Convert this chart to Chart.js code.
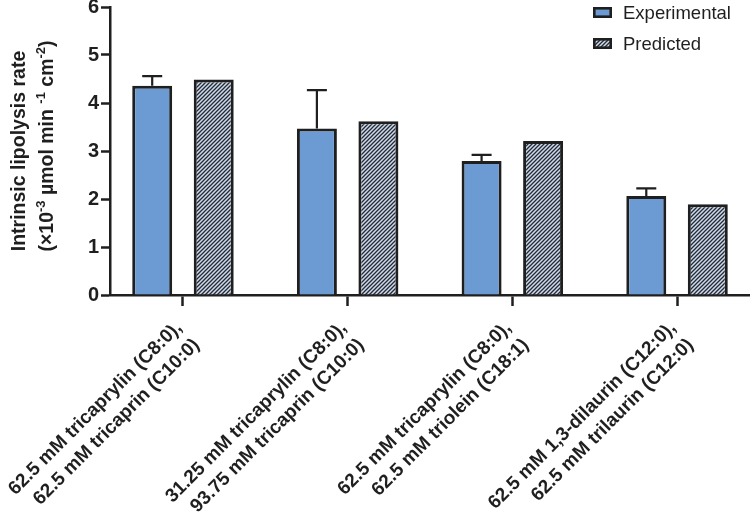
<!DOCTYPE html>
<html><head><meta charset="utf-8">
<script src="https://cdn.jsdelivr.net/npm/chart.js@4/dist/chart.umd.min.js"></script>
<style>html,body{margin:0;padding:0;background:#fff}canvas{display:block}</style>
</head><body>
<canvas id="c" width="750" height="514"></canvas>
<script>
const categories = [
  ["62.5 mM tricaprylin (C8:0),", "62.5 mM tricaprin (C10:0)"],
  ["31.25 mM tricaprylin (C8:0),", "93.75 mM tricaprin (C10:0)"],
  ["62.5 mM tricaprylin (C8:0),", "62.5 mM triolein (C18:1)"],
  ["62.5 mM 1,3-dilaurin (C12:0),", "62.5 mM trilaurin (C12:0)"]
];
const seriesNames = ["Experimental", "Predicted"];
const experimental = [4.36, 3.47, 2.79, 2.06];
const experimentalErr = [0.20, 0.80, 0.13, 0.16];
const predicted = [4.49, 3.62, 3.21, 1.89];
const yMin = 0, yMax = 6, yStep = 1;
const yTitleLines = [
  [{t: "Intrinsic lipolysis rate"}],
  [{t: "(\u00d710"}, {t: "-3", sup: true}, {t: " \u00b5mol min "}, {t: "-1", sup: true}, {t: " cm"}, {t: "-2", sup: true}, {t: ")"}]
];

const FONT = '"Liberation Sans", Arial, Helvetica, sans-serif';
const INK = '#1f1f1f';
const canvas = document.getElementById('c');
const ctx = canvas.getContext('2d');

function makeHatch() {
  const s = 4;
  const c = document.createElement('canvas');
  c.width = s; c.height = s;
  const g = c.getContext('2d');
  g.fillStyle = '#cddbec';
  g.fillRect(0, 0, s, s);
  g.strokeStyle = '#262b33';
  g.lineWidth = 1.3;
  g.beginPath();
  g.moveTo(0, s); g.lineTo(s, 0);
  g.moveTo(-1, 1); g.lineTo(1, -1);
  g.moveTo(s - 1, s + 1); g.lineTo(s + 1, s - 1);
  g.stroke();
  return ctx.createPattern(c, 'repeat');
}
const hatch = makeHatch();
const expColor = '#6b9bd2';

const errorBars = {
  id: 'errorBars',
  afterDatasetsDraw(chart) {
    const meta = chart.getDatasetMeta(0);
    const y = chart.scales.y;
    const c = chart.ctx;
    c.save();
    c.strokeStyle = INK;
    c.lineWidth = 2.2;
    meta.data.forEach((bar, i) => {
      const top = y.getPixelForValue(experimental[i] + experimentalErr[i]);
      c.beginPath();
      c.moveTo(bar.x, bar.y);
      c.lineTo(bar.x, top);
      c.moveTo(bar.x - 10, top);
      c.lineTo(bar.x + 10, top);
      c.stroke();
    });
    c.restore();
  }
};

const yTitle = {
  id: 'yTitle',
  afterDraw(chart) {
    const c = chart.ctx;
    const baselines = [25, 53];
    const centers = [151, 146];
    c.save();
    c.fillStyle = INK;
    c.textBaseline = 'alphabetic';
    c.textAlign = 'left';
    yTitleLines.forEach((segs, li) => {
      let total = 0;
      segs.forEach(s => { c.font = 'bold ' + (s.sup ? 13 : 19.5) + 'px ' + FONT; total += c.measureText(s.t).width; });
      c.save();
      c.translate(baselines[li], centers[li]);
      c.rotate(-Math.PI / 2);
      let x = -total / 2;
      segs.forEach(s => {
        c.font = 'bold ' + (s.sup ? 13 : 19.5) + 'px ' + FONT;
        c.fillText(s.t, x, s.sup ? -8 : 0);
        x += c.measureText(s.t).width;
      });
      c.restore();
    });
    c.restore();
  }
};

const legendBoxes = {
  id: 'legendBoxes',
  afterDraw(chart) {
    const c = chart.ctx;
    c.save();
    chart.data.datasets.forEach((ds, i) => {
      const bx = 593, by = 7 + i * 31, bw = 19, bh = 11;
      c.fillStyle = ds.backgroundColor;
      c.fillRect(bx, by, bw, bh);
      c.strokeStyle = INK;
      c.lineWidth = 2.6;
      c.strokeRect(bx + 1.3, by + 1.3, bw - 2.6, bh - 2.6);
      c.fillStyle = INK;
      c.font = '18.5px ' + FONT;
      c.textBaseline = 'middle';
      c.textAlign = 'left';
      c.fillText(ds.label, 623, by + bh / 2 + 1);
    });
    c.restore();
  }
};

new Chart(ctx, {
  type: 'bar',
  data: {
    datasets: [
      {
        label: seriesNames[0],
        data: experimental.map((v, i) => ({x: i, y: v})),
        backgroundColor: expColor,
        borderColor: INK,
        borderWidth: 3,
        categoryPercentage: 0.747,
        barPercentage: 0.65
      },
      {
        label: seriesNames[1],
        data: predicted.map((v, i) => ({x: i, y: v})),
        backgroundColor: hatch,
        borderColor: INK,
        borderWidth: 3,
        categoryPercentage: 0.747,
        barPercentage: 0.65
      }
    ]
  },
  options: {
    responsive: false,
    devicePixelRatio: 1,
    animation: false,
    layout: {padding: {top: 7, left: 0, right: 0, bottom: 0}},
    plugins: {legend: {display: false}, tooltip: {enabled: false}},
    scales: {
      x: {
        type: 'linear',
        offset: false,
        min: -0.443,
        max: categories.length - 1 + 0.443,
        afterBuildTicks(scale) { scale.ticks = categories.map((_, i) => ({value: i})); },
        afterFit(scale) { scale.height = 514 - 295; scale.paddingLeft = 0; scale.paddingRight = 0; },
        grid: {display: true, offset: false, drawOnChartArea: false, drawTicks: true, tickLength: 11, tickWidth: 2.5, tickColor: INK},
        border: {display: true, width: 2.5, color: INK},
        ticks: {
          autoSkip: false,
          minRotation: 45,
          maxRotation: 45,
          padding: 10,
          labelOffset: -4,
          color: INK,
          font: {family: FONT, size: 19, weight: 'bold', lineHeight: 1.3},
          callback: (v) => categories[v]
        }
      },
      y: {
        min: yMin,
        max: yMax,
        afterFit(scale) { scale.width = 110; scale.paddingTop = 0; scale.paddingBottom = 0; },
        grid: {display: true, drawOnChartArea: false, drawTicks: true, tickLength: 9, tickWidth: 2.5, tickColor: INK},
        border: {display: true, width: 2.5, color: INK},
        ticks: {
          stepSize: yStep,
          padding: 2,
          color: INK,
          font: {family: FONT, size: 20, weight: 'bold'}
        }
      }
    }
  },
  plugins: [errorBars, yTitle, legendBoxes]
});
</script>
</body></html>
